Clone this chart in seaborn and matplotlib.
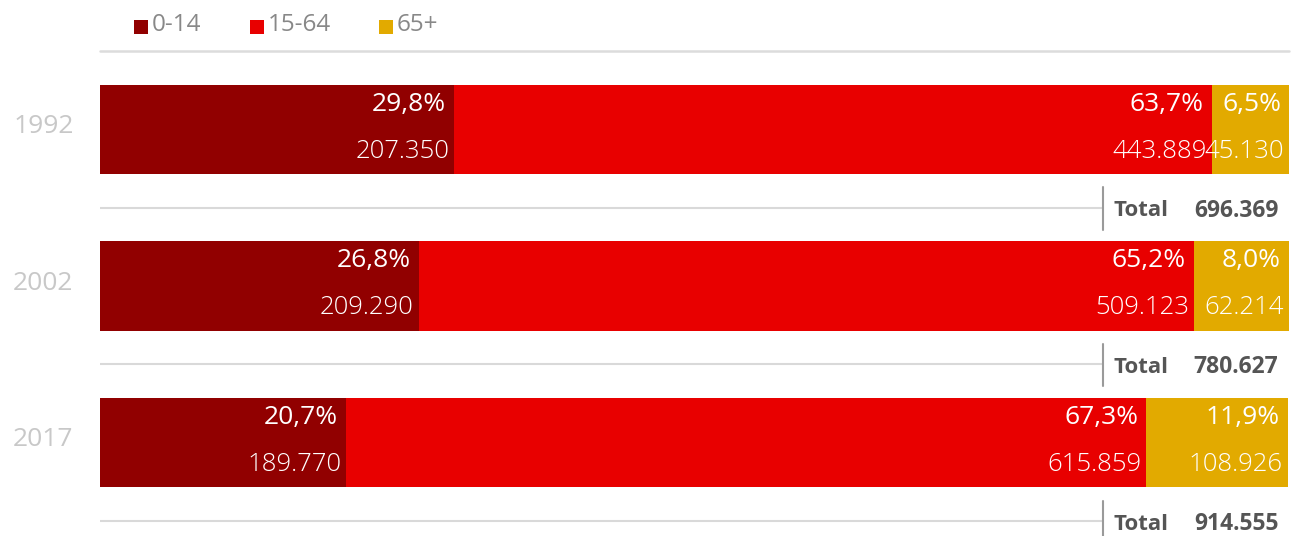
import numpy as np
import pandas as pd
import matplotlib
matplotlib.use("Agg")
import matplotlib.pyplot as plt
import seaborn as sns
from matplotlib.patches import Rectangle
from matplotlib.transforms import ScaledTranslation

# population by age group (share in %, absolute counts as printed)
years = ['1992', '2002', '2017']
groups = ['0-14', '15-64', '65+']
share_0_14 = [29.8, 26.8, 20.7]
share_15_64 = [63.7, 65.2, 67.3]
share_65 = [6.5, 8.0, 11.9]
count_0_14 = ['207.350', '209.290', '189.770']
count_15_64 = ['443.889', '509.123', '615.859']
count_65 = ['45.130', '62.214', '108.926']
totals = ['696.369', '780.627', '914.555']
colors = ['#910000', '#e80000', '#e2aa00']

sns.set_theme(style="white")
plt.rcParams['font.family'] = ['Open Sans', 'DejaVu Sans']

W, H = 1291, 536
fig = plt.figure(figsize=(W / 100, H / 100), dpi=100)
ax = fig.add_axes([100 / W, 15 / H, 1189 / W, 470 / H])

shares = np.array([share_0_14, share_15_64, share_65])
counts = [count_0_14, count_15_64, count_65]
ends = shares.cumsum(axis=0)

df = pd.DataFrame({'year': years})
# stacked bars: draw the cumulative layers from the longest down
for i in reversed(range(len(groups))):
    df['end'] = ends[i]
    sns.barplot(data=df, x='end', y='year', orient='h', color=colors[i],
                width=0.57, saturation=1, errorbar=None, linewidth=0, ax=ax)

for j in range(len(years)):
    for i in range(len(groups)):
        pct = ('%.1f' % shares[i][j]).replace('.', ',') + '%'
        ax.annotate(pct, xy=(ends[i][j], j), xytext=(-8, 25),
                    textcoords='offset pixels', ha='right', va='center',
                    color='white', fontsize=19)
        ax.annotate(counts[i][j], xy=(ends[i][j], j), xytext=(-5, -22),
                    textcoords='offset pixels', ha='right', va='center',
                    color='white', fontsize=18.5, fontweight='light')
    # separator + total
    ax.plot([0, 84.36], [j + 0.5, j + 0.5], color='#d9d9d9', lw=1.5,
            clip_on=False, solid_capstyle='butt')
    ax.plot([84.36, 84.36], [j + 0.37, j + 0.64], color='#9a9a9a', lw=1.5,
            clip_on=False)
    ax.text(85.2, j + 0.52, 'Total', color='#555555', fontsize=16,
            fontweight='bold', va='center')
    ax.text(99.1, j + 0.52, totals[j], color='#555555', fontsize=16.5,
            fontweight='bold', va='center', ha='right')

ax.plot([0, 100], [-0.5, -0.5], color='#dcdcdc', lw=1.8, clip_on=False)

ax.set_xlim(0, 100)
ax.set_ylim(2.5, -0.5)
ax.set_xticks([])
ax.set_xlabel('')
ax.set_ylabel('')
ax.tick_params(axis='y', length=0, pad=19, labelsize=19, labelcolor='#c8c8c8')
shift = ScaledTranslation(0, 6 / 100, fig.dpi_scale_trans)
for lab in ax.get_yticklabels():
    lab.set_transform(lab.get_transform() + shift)
sns.despine(ax=ax, left=True, bottom=True)

# legend
sq_x = [134, 250, 379]
for k in range(len(groups)):
    fig.add_artist(Rectangle((sq_x[k] / W, 1 - 34 / H), 14 / W, 14 / H,
                             transform=fig.transFigure, color=colors[k], lw=0))
    fig.text((sq_x[k] + 18) / W, 1 - 25 / H, groups[k], color='#888888',
             fontsize=17.5, va='center')

fig.savefig('out.png', dpi=100)
